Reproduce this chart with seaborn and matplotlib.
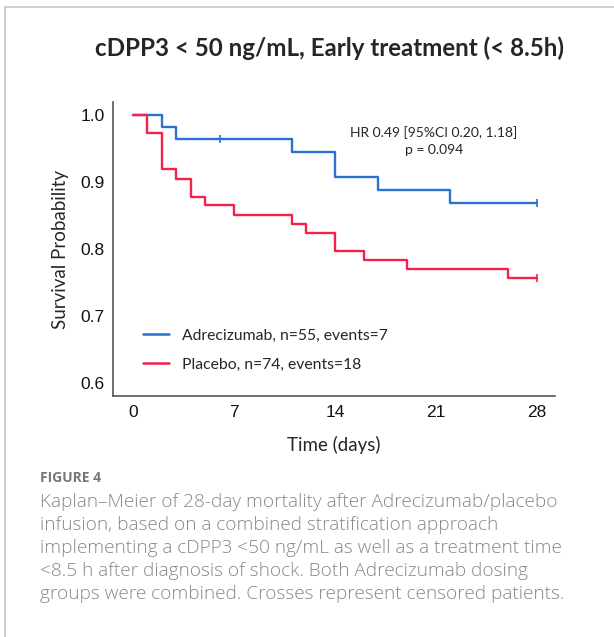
import matplotlib
matplotlib.use("Agg")
import matplotlib.pyplot as plt
import seaborn as sns
import pandas as pd
from matplotlib.lines import Line2D

# ---- data ----
groups = ["Adrecizumab, n=55, events=7", "Placebo, n=74, events=18"]
adre_time = [0, 2, 3, 11, 14, 17, 22, 28]
adre_surv = [1.0, 0.982, 0.964, 0.945, 0.907, 0.888, 0.869, 0.869]
plac_time = [0, 1, 2, 3, 4, 5, 7, 11, 12, 14, 16, 19, 26, 28]
plac_surv = [1.0, 0.973, 0.919, 0.905, 0.878, 0.865, 0.851, 0.838, 0.824, 0.797, 0.784, 0.770, 0.757, 0.757]
adre_cens_time = [6, 28]
adre_cens_surv = [0.964, 0.869]
plac_cens_time = [28]
plac_cens_surv = [0.757]
xticks = [0, 7, 14, 21, 28]
yticks = [0.6, 0.7, 0.8, 0.9, 1.0]

colors = {groups[0]: "#2a72d2", groups[1]: "#f5214b"}

df = pd.concat([
    pd.DataFrame({"time": adre_time, "surv": adre_surv, "group": groups[0]}),
    pd.DataFrame({"time": plac_time, "surv": plac_surv, "group": groups[1]}),
], ignore_index=True)
cens = pd.concat([
    pd.DataFrame({"time": adre_cens_time, "surv": adre_cens_surv, "group": groups[0]}),
    pd.DataFrame({"time": plac_cens_time, "surv": plac_cens_surv, "group": groups[1]}),
], ignore_index=True)

sns.set_style("white")
plt.rcParams['font.family'] = ['Liberation Sans', 'DejaVu Sans']

fig = plt.figure(figsize=(6.14, 6.37), dpi=100)
ax = fig.add_axes([0.184, 0.378, 0.720, 0.462])

for g in groups:
    sub = df[df.group == g]
    sns.lineplot(data=sub, x="time", y="surv", ax=ax, drawstyle="steps-post",
                 estimator=None, color=colors[g], linewidth=1.7, legend=False)
    sc = cens[cens.group == g]
    sns.scatterplot(data=sc, x="time", y="surv", ax=ax, marker="|", s=40,
                    color=colors[g], linewidth=1.2, legend=False)

ax.set_xlim(-1.39, 29.25)
ax.set_ylim(0.5806, 1.0194)
ax.set_xticks(xticks)
ax.set_xticklabels([str(t) for t in xticks])
ax.set_yticks(yticks)
ax.set_yticklabels([f"{v:.1f}" for v in yticks])
for s in ["top", "right"]:
    ax.spines[s].set_visible(False)
for s in ["left", "bottom"]:
    ax.spines[s].set_color("#555555")
    ax.spines[s].set_linewidth(1.2)
ax.tick_params(axis="both", which="both", direction="out", length=3, width=1,
               color="#555555", labelsize=12.5, labelcolor="#111111", pad=3)
ax.set_xlabel("Time (days)", family=["Lato", "DejaVu Sans"], fontsize=13.5, labelpad=12)
ax.set_ylabel("Survival Probability", family=["Lato", "DejaVu Sans"], fontsize=13.5, labelpad=8)

handles = [Line2D([0], [0], color=colors[g], lw=1.8) for g in groups]
leg = ax.legend(handles, groups, loc="lower left", bbox_to_anchor=(0.035, 0.035),
                frameon=False, prop={"family": ["Lato", "DejaVu Sans"], "size": 11.3},
                handlelength=1.7, labelspacing=0.95, handletextpad=0.8)

ax.text(0.726, 0.867, "HR 0.49 [95%CI 0.20, 1.18]\np = 0.094", transform=ax.transAxes,
        ha="center", va="center", family=["Lato", "DejaVu Sans"], fontsize=10,
        linespacing=1.45)

fig.text(0.537, 0.925, "cDPP3 < 50 ng/mL, Early treatment (< 8.5h)", ha="center", va="center",
         family=["Lato", "DejaVu Sans"], fontweight="bold", fontsize=17.4)

# frame lines
fig.add_artist(Line2D([5/614, 5/614], [0, 1 - 7/637], color="#c8c8c8", lw=1.2,
                      transform=fig.transFigure))
fig.add_artist(Line2D([5/614, 1], [1 - 7/637, 1 - 7/637], color="#c8c8c8", lw=1.2,
                      transform=fig.transFigure))

fig.text(40/614, 1 - 478/637, "FIGURE 4", ha="left", va="center",
         family=["Open Sans", "DejaVu Sans"], fontweight="bold", fontsize=10, color="#777777")
caption = ("Kaplan\u2013Meier of 28-day mortality after Adrecizumab/placebo\n"
           "infusion, based on a combined stratification approach\n"
           "implementing a cDPP3 <50 ng/mL as well as a treatment time\n"
           "<8.5 h after diagnosis of shock. Both Adrecizumab dosing\n"
           "groups were combined. Crosses represent censored patients.")
fig.text(40/614, 1 - 493/637, caption, ha="left", va="top",
         family=["Open Sans", "DejaVu Sans"], fontweight="light", fontsize=13.7,
         color="#888888", linespacing=1.36)

fig.savefig("out.png", dpi=100)
